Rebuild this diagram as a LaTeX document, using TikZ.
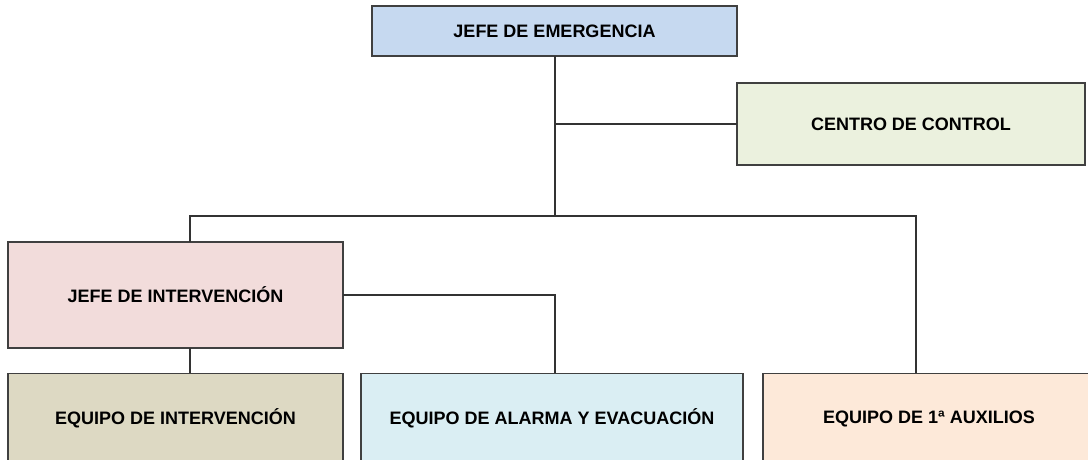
\documentclass[tikz,border=0pt]{standalone}
\usepackage{fontspec}
\setmainfont{Liberation Sans}
\usetikzlibrary{positioning}

\definecolor{jefeblue}{HTML}{C6D9F0}
\definecolor{ctrlgreen}{HTML}{EBF1DE}
\definecolor{intpink}{HTML}{F2DCDB}
\definecolor{eqtan}{HTML}{DDD9C3}
\definecolor{eqcyan}{HTML}{DAEEF3}
\definecolor{eqpeach}{HTML}{FDE9D9}

\begin{document}
\begin{tikzpicture}[x=1pt,y=-1pt,line cap=rect,line join=miter]
\tikzset{
  orgbox/.style={draw=black!75,line width=1.3pt,inner sep=0pt,
    font=\fontsize{18}{21}\selectfont\bfseries},
  orgline/.style={draw=black!80,line width=1.2pt}
}
\useasboundingbox (0,0) rectangle (1088,460);
% boxes
\node[orgbox,fill=jefeblue,minimum width=365pt,minimum height=50pt] (jefe) at (554.5,31) {JEFE DE EMERGENCIA};
\node[orgbox,fill=ctrlgreen,minimum width=348pt,minimum height=82pt] (control) at (911,124) {CENTRO DE CONTROL};
\node[orgbox,fill=intpink,minimum width=335pt,minimum height=106pt] (jint) at (175.5,295) {JEFE DE INTERVENCIÓN};
\node[orgbox,fill=eqtan,minimum width=335pt,minimum height=90pt] (eqint) at (175.5,418.5) {EQUIPO DE INTERVENCIÓN};
\node[orgbox,fill=eqcyan,minimum width=382pt,minimum height=90pt] (eqalarma) at (552,418.5) {EQUIPO DE ALARMA Y EVACUACIÓN};
\node[orgbox,fill=eqpeach,minimum width=332pt,minimum height=90pt] (eqaux) at (929,418.5) {EQUIPO DE 1ª AUXILIOS};
% branch points
\coordinate (hub) at (555,216);
\coordinate (lft) at (190,216);
\coordinate (rgt) at (916,216);
% connectors
\draw[orgline] (jefe.south -| hub) -- (hub);
\draw[orgline] (control.west -| hub) -- (control.west);
\draw[orgline] (lft) -- (rgt);
\draw[orgline] (lft) -- (lft |- jint.north);
\draw[orgline] (rgt) -- (rgt |- eqaux.north);
\draw[orgline] (jint.south -| lft) -- (eqint.north -| lft);
\draw[orgline] (jint.east) -| (eqalarma.north -| hub);
\end{tikzpicture}
\end{document}
